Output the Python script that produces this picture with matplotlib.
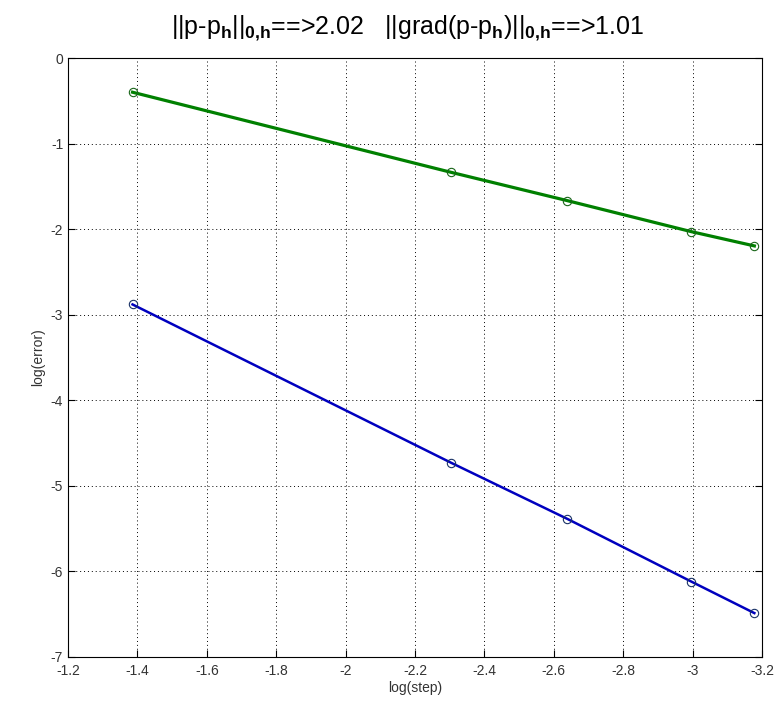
import numpy as np
import matplotlib
matplotlib.use("Agg")
import matplotlib.pyplot as plt

plt.rcParams['font.family'] = ['Liberation Sans', 'DejaVu Sans']
plt.rcParams['mathtext.fontset'] = 'custom'
plt.rcParams['mathtext.rm'] = 'Liberation Sans'
plt.rcParams['mathtext.it'] = 'Liberation Sans'
plt.rcParams['mathtext.bf'] = 'Liberation Sans:bold'

log_step = [-1.386, -2.303, -2.639, -2.996, -3.178]
grad_err = [-0.40, -1.335, -1.667, -2.029, -2.196]
l2_err = [-2.88, -4.728, -5.386, -6.118, -6.487]
xticks = [-1.2, -1.4, -1.6, -1.8, -2, -2.2, -2.4, -2.6, -2.8, -3, -3.2]
yticks = [0, -1, -2, -3, -4, -5, -6, -7]

fig = plt.figure(figsize=(7.81, 7.08), dpi=100)
ax = fig.add_axes([68/781, 1-657/708, (762-68)/781, (657-58)/708])

ax.plot(log_step, grad_err, color=(0, 0.5, 0), lw=2.3, marker='o', ms=6,
        mfc='none', mec=(0.1, 0.4, 0.1), mew=0.8, zorder=3)
ax.plot(log_step, l2_err, color=(0, 0, 0.75), lw=1.8, marker='o', ms=6,
        mfc='none', mec=(0.1, 0.2, 0.4), mew=0.8, zorder=3)

ax.set_xlim(-1.2, -3.2)
ax.set_ylim(-7, 0)
ax.set_xticks(xticks)
ax.set_xticklabels([f"{v:g}" for v in xticks])
ax.set_yticks(yticks)
ax.set_yticklabels([f"{v:g}" for v in yticks])
ax.tick_params(direction='in', length=5, labelsize=10, colors='black',
               labelcolor='#333333', top=False, right=True)
ax.tick_params(axis='x', pad=5)
ax.grid(True, color='black', linestyle=(0, (1, 3)), lw=0.7)
for s in ax.spines.values():
    s.set_color('black')
    s.set_linewidth(0.8)

ax.set_xlabel('log(step)', fontsize=10, color='#333333', labelpad=2)
ax.set_ylabel('log(error)', fontsize=10, color='#333333', labelpad=4)

title = (r"$||$p-p$_\mathbf{h}||_{\mathbf{0{,}h}}$==>2.02   "
         r"$||$grad(p-p$_\mathbf{h}$)$||_{\mathbf{0{,}h}}$==>1.01")
fig.text((163+653)/2/781, 1-34/708, title, ha='center', va='baseline', fontsize=18)

fig.savefig('out.png', dpi=100, facecolor='white')
